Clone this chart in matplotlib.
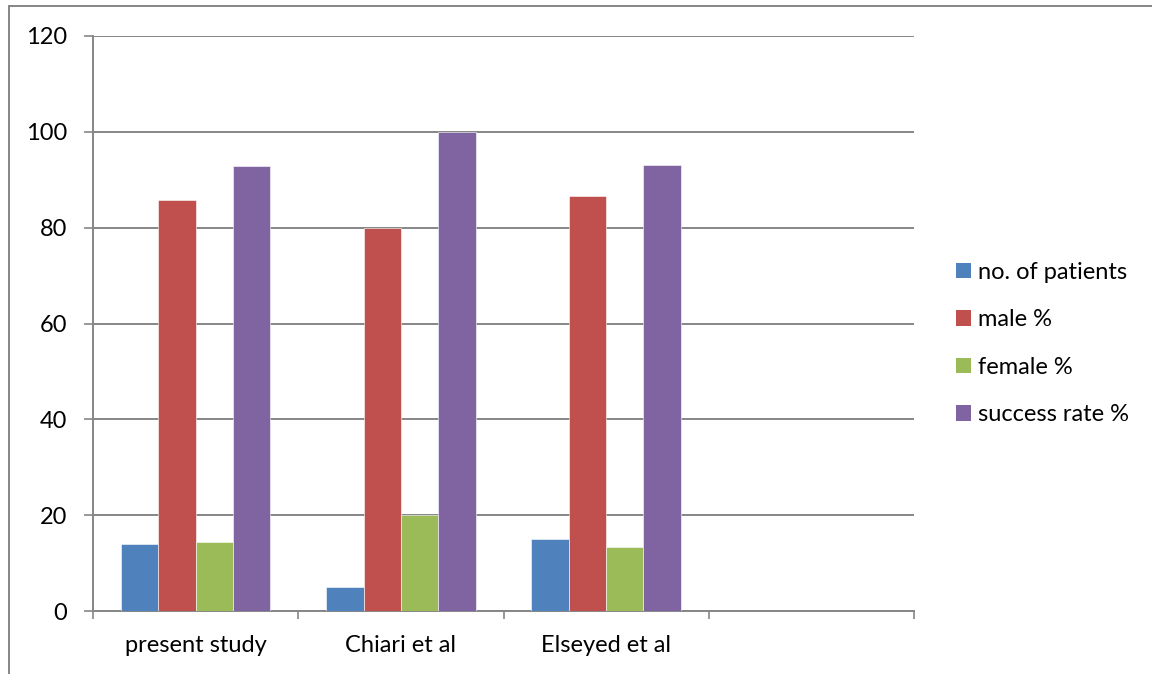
import matplotlib
matplotlib.use("Agg")
import matplotlib.pyplot as plt
import numpy as np
from matplotlib.patches import Patch, Rectangle

# data
categories = ["present study", "Chiari et al", "Elseyed et al", ""]
series_names = ["no. of patients", "male %", "female %", "success rate %"]
patients = [14, 5, 15]
male_pct = [85.7, 80, 86.7]
female_pct = [14.3, 20, 13.3]
success_pct = [92.9, 100, 93.1]
y_ticks = [0, 20, 40, 60, 80, 100, 120]

colors = ["#4F81BD", "#C0504D", "#9BBB59", "#8064A2"]
grid_col = "#868686"
FS = 17

plt.rcParams["font.family"] = ["Lato", "DejaVu Sans"]

W, H = 1152, 674
fig = plt.figure(figsize=(W / 100, H / 100), dpi=100)
ax = fig.add_axes([93 / W, 1 - 611 / H, (914 - 93) / W, (611 - 36) / H])

# outer chart border (runs off the right and bottom of the image)
fig.patches.append(Rectangle((9 / W, -0.05), 1.1, 1 - 6 / H + 0.05,
                             transform=fig.transFigure, fill=False,
                             edgecolor=grid_col, linewidth=1.4))

series = [patients, male_pct, female_pct, success_pct]
n = len(series)
bar_w = 1.0 / (n + 1.5)
x = np.arange(len(patients))
for i, (vals, col, name) in enumerate(zip(series, colors, series_names)):
    offs = (i - (n - 1) / 2) * bar_w
    ax.bar(x + offs, vals, width=bar_w, color=col, edgecolor="white",
           linewidth=0.4, label=name, zorder=3)

ax.set_xlim(-0.5, len(categories) - 0.5)
ax.set_ylim(0, 120)
ax.set_yticks(y_ticks)
ax.yaxis.grid(True, color=grid_col, linewidth=1.4, zorder=0)

ax.set_xticks(np.arange(len(categories) + 1) - 0.5)
ax.set_xticklabels([])
ax.set_xticks(np.arange(len(categories)), minor=True)
ax.set_xticklabels(categories, minor=True)
ax.tick_params(axis="x", which="major", direction="out", length=6,
               width=1.2, color=grid_col)
ax.tick_params(axis="x", which="minor", length=0, pad=17.5, labelsize=FS)
ax.tick_params(axis="y", direction="out", length=6.5, width=1.2,
               color=grid_col, pad=12, labelsize=FS)

for side in ["top", "right"]:
    ax.spines[side].set_visible(False)
for side in ["left", "bottom"]:
    ax.spines[side].set_color(grid_col)
    ax.spines[side].set_linewidth(1.4)

handles = [Patch(facecolor=c, edgecolor="none") for c in colors]
fig.legend(handles, series_names, loc="center left",
           bbox_to_anchor=(956 / W, 1 - 343.5 / H), frameon=False,
           fontsize=FS, handlelength=0.64, handleheight=0.64,
           handletextpad=0.28, labelspacing=1.12, borderpad=0,
           borderaxespad=0)

fig.savefig("out.png", dpi=100)
